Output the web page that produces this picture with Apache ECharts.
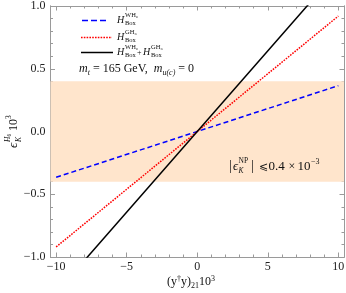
<!DOCTYPE html>
<html><head><meta charset="utf-8">
<script src="https://cdn.jsdelivr.net/npm/echarts@6/dist/echarts.min.js"></script>
<style>html,body{margin:0;padding:0;background:#fff}#c{width:346px;height:293px}</style>
</head><body><div id="c"></div>
<script>
const xValues = [-10, 10];
const blueWH6 = [-0.365, 0.365];
const redGH6 = [-0.92, 0.92];
const blackSum = [-1.285, 1.285];
const band = [-0.4, 0.4];
const xTickValues = [-10, -5, 0, 5, 10];
const xMinorValues = [-9, -8, -7, -6, -4, -3, -2, -1, 1, 2, 3, 4, 6, 7, 8, 9];
const yTickValues = [-1, -0.5, 0, 0.5, 1];
const yMinorValues = [-0.9, -0.8, -0.7, -0.6, -0.4, -0.3, -0.2, -0.1, 0.1, 0.2, 0.3, 0.4, 0.6, 0.7, 0.8, 0.9];

const SERIF = '"Liberation Serif","DejaVu Serif",serif';
const GRAY = '#9a9a9a';
const fmtMinus = s => String(s).replace('-', '\u2212');

function mkX(pos, vals, len, labels) {
  return {
    type: 'value', position: pos, min: -10.4, max: 10.4,
    axisLine: {show: true, onZero: false, lineStyle: {color: GRAY, width: 1}},
    axisTick: {show: true, inside: true, length: len, customValues: vals, lineStyle: {color: GRAY}},
    axisLabel: labels ? {show: true, customValues: xTickValues, margin: 4, fontFamily: SERIF, fontSize: 12, color: '#222',
      formatter: v => fmtMinus(v)} : {show: false},
    splitLine: {show: false}
  };
}
function mkY(pos, vals, len, labels) {
  return {
    type: 'value', position: pos, min: -1, max: 1,
    axisLine: {show: true, onZero: false, lineStyle: {color: GRAY, width: 1}},
    axisTick: {show: true, inside: true, length: len, customValues: vals, lineStyle: {color: GRAY}},
    axisLabel: labels ? {show: true, customValues: yTickValues, margin: 5, fontFamily: SERIF, fontSize: 12, color: '#222',
      formatter: v => fmtMinus(Number(v).toFixed(1))} : {show: false},
    splitLine: {show: false}
  };
}

const chart = echarts.init(document.getElementById('c'), null, {renderer: 'canvas'});
const T = (x, y, text, size, extra) => ({type: 'text', x, y, z: 100, style: Object.assign({text, fontFamily: SERIF, fontSize: size, fill: '#111', textVerticalAlign: 'middle'}, extra || {})});

const legendH = (x, y, sup, sub) => [
  T(x, y + 0.5, 'H', 10, {fontStyle: 'italic'}),
  T(x + 8, y - 4.5, sup, 6.5),
  T(x + 8, y + 3.5, sub, 6.5)
];

const graphic = [
  {type: 'line', z: 100, shape: {x1: 82, y1: 20.5, x2: 109, y2: 20.5}, style: {stroke: '#0000ff', lineWidth: 1.5, lineDash: [6, 3]}},
  {type: 'line', z: 100, shape: {x1: 81, y1: 37.5, x2: 112, y2: 37.5}, style: {stroke: '#ff0000', lineWidth: 1.5, lineDash: [1.6, 1.2]}},
  {type: 'line', z: 100, shape: {x1: 81, y1: 52.5, x2: 113, y2: 52.5}, style: {stroke: '#000', lineWidth: 1.5}},
  ...legendH(117, 20, 'WH\u2086', 'Box'),
  ...legendH(117, 37, 'GH\u2086', 'Box'),
  ...legendH(117, 52, 'WH\u2086', 'Box'),
  T(137, 52.5, '+', 8),
  ...legendH(143, 52, 'GH\u2086', 'Box'),
  {type: 'text', z: 100, x: 79, y: 69, style: {
    text: '{i|m}{s|t} = 165 GeV,  {i|m}{s|u(c)} = 0',
    fontFamily: SERIF, fontSize: 12, fill: '#111', textVerticalAlign: 'middle',
    rich: {i: {fontStyle: 'italic', fontFamily: SERIF, fontSize: 12}, s: {fontStyle: 'italic', fontFamily: SERIF, fontSize: 8, padding: [7, 0, 0, 0]}}
  }},
  // annotation
  T(229, 166, '|', 14),
  T(233, 167, '\u03f5', 12.5, {fontStyle: 'italic'}),
  T(238.5, 161.5, 'NP', 7.5),
  T(238.5, 171.5, 'K', 7.5, {fontStyle: 'italic'}),
  T(251, 166, '|', 14),
  T(259, 167, '\u2a7d', 11),
  T(268.5, 167, '0.4', 13),
  T(288.5, 167, '\u00d7', 12),
  T(297.5, 167, '10', 13),
  T(311, 161.5, '\u22123', 8),
  // y axis title (rotated)
  {type: 'group', x: 14, y: 129, rotation: Math.PI / 2, children: [
    T(-19, 0, '\u03f5', 13, {fontStyle: 'italic'}),
    T(-13, -6, 'H', 7.5, {fontStyle: 'italic'}),
    T(-7.5, -4, '6', 5.5),
    T(-13, 5, 'K', 7.5, {fontStyle: 'italic'}),
    T(-2, 0, '10', 12),
    T(10, -5, '3', 7.5)
  ]},
  // x axis title
  {type: 'text', z: 100, x: 167, y: 282, style: {
    text: '(y{s|\u2020}y){b|21}10{s|3}',
    fontFamily: SERIF, fontSize: 12, fill: '#111', textVerticalAlign: 'middle',
    rich: {s: {fontFamily: SERIF, fontSize: 8, padding: [0, 0, 7, 0]}, b: {fontFamily: SERIF, fontSize: 8, padding: [7, 0, 0, 0]}}
  }}
];

chart.setOption({
  animation: false,
  backgroundColor: '#fff',
  grid: {left: 50.5, right: 2, top: 6, bottom: 36, containLabel: false, outerBoundsMode: 'none'},
  xAxis: [mkX('bottom', xTickValues, 4.5, true), mkX('bottom', xMinorValues, 2.5, false),
          mkX('top', xTickValues, 4.5, false), mkX('top', xMinorValues, 2.5, false)],
  yAxis: [mkY('left', yTickValues, 4.5, true), mkY('left', yMinorValues, 2.5, false),
          mkY('right', yTickValues, 4.5, false), mkY('right', yMinorValues, 2.5, false)],
  series: [
    {type: 'line', name: 'WH6', data: xValues.map((x, i) => [x, blueWH6[i]]), showSymbol: false, clip: true,
      lineStyle: {color: '#0000ff', width: 1.5, type: [5, 3]}, z: 3,
      markArea: {silent: true, itemStyle: {color: '#ffe5cc', opacity: 1}, data: [[{yAxis: band[0]}, {yAxis: band[1]}]], z: 1}},
    {type: 'line', name: 'GH6', data: xValues.map((x, i) => [x, redGH6[i]]), showSymbol: false, clip: true,
      lineStyle: {color: '#ff0000', width: 1.5, type: [1.6, 1.2]}, z: 3},
    {type: 'line', name: 'sum', data: xValues.map((x, i) => [x, blackSum[i]]), showSymbol: false, clip: true,
      lineStyle: {color: '#000', width: 1.5}, z: 3}
  ],
  graphic
});
</script></body></html>
